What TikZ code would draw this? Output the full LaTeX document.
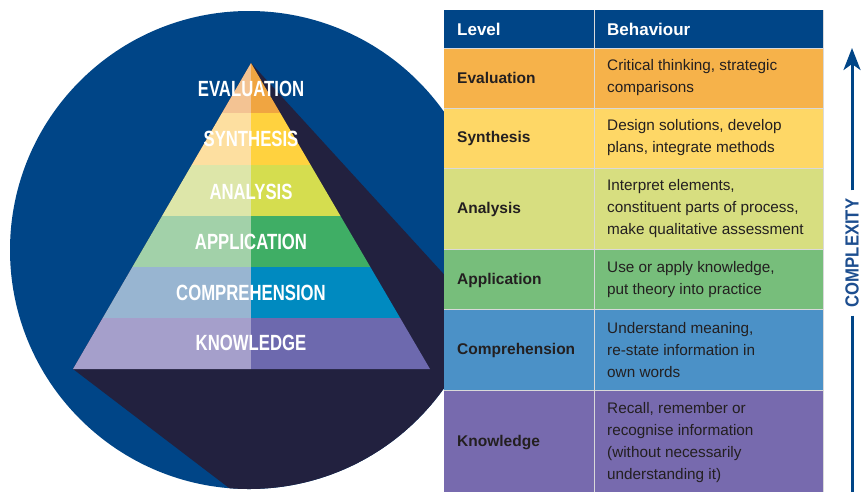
\documentclass[tikz,border=0pt]{standalone}
\usepackage{fontspec}
\setmainfont{Liberation Sans}
\newfontfamily\pyrfont{Liberation Sans}[FakeStretch=0.76]
\newfontfamily\cpxfont{Liberation Sans}[FakeStretch=0.88]
\usetikzlibrary{arrows.meta}
\definecolor{navy}{HTML}{004587}
\definecolor{shadowc}{HTML}{22213F}
\definecolor{evL}{HTML}{F3C393}\definecolor{evR}{HTML}{F0A541}
\definecolor{syL}{HTML}{FDDFA0}\definecolor{syR}{HTML}{FFD23F}
\definecolor{anL}{HTML}{DDE6A9}\definecolor{anR}{HTML}{D5DD4F}
\definecolor{apL}{HTML}{A2D1A9}\definecolor{apR}{HTML}{3FAE65}
\definecolor{coL}{HTML}{98B5D1}\definecolor{coR}{HTML}{008AC0}
\definecolor{knL}{HTML}{A59FCB}\definecolor{knR}{HTML}{6D69AE}
\definecolor{tEv}{HTML}{F6B24A}
\definecolor{tSy}{HTML}{FED766}
\definecolor{tAn}{HTML}{D7DE80}
\definecolor{tAp}{HTML}{77BE7B}
\definecolor{tCo}{HTML}{4B91C7}
\definecolor{tKn}{HTML}{776AAE}
\definecolor{ink}{HTML}{231F20}
\definecolor{gridc}{HTML}{D9D9D9}
\definecolor{cpxc}{HTML}{1D4E8F}
\tikzset{
  pyr/.style={text=white, inner sep=0pt, font=\pyrfont\bfseries\fontsize{22}{22}\selectfont},
  hdr/.style={text=white, anchor=west, inner sep=0pt, font=\bfseries\fontsize{17}{20}\selectfont},
  lvl/.style={text=ink, anchor=west, inner sep=0pt, font=\bfseries\fontsize{15.5}{22}\selectfont},
  beh/.style={text=ink, anchor=west, inner sep=0pt, align=left, font=\fontsize{15.3}{22}\selectfont},
  cell/.style={draw=gridc, line width=0.8pt},
  cpx/.style={text=cpxc, rotate=90, inner sep=8pt, font=\cpxfont\bfseries\fontsize{19}{19}\selectfont},
  arr/.style={draw=navy, line width=3pt}
}
\begin{document}
\begin{tikzpicture}[x=1pt,y=-1pt]
\useasboundingbox (0,0) rectangle (861,491);
% circle
\coordinate (cc) at (249,250);
\fill[navy] (cc) circle[radius=239pt];
% pyramid corners
\coordinate (apex) at (251,63);
\coordinate (bl) at (73,369);
\coordinate (br) at (430,369);
% shadow
\begin{scope}
  \clip (cc) circle[radius=239pt];
  \fill[shadowc] (apex) -- (818,684) -- (553,735) -- (bl) -- cycle;
\end{scope}
% pyramid bands
\begin{scope}
  \clip (apex) -- (bl) -- (br) -- cycle;
  \fill[evL] (60,55) rectangle (251,113);  \fill[evR] (251,55) rectangle (440,113);
  \fill[syL] (60,113) rectangle (251,165); \fill[syR] (251,113) rectangle (440,165);
  \fill[anL] (60,165) rectangle (251,216); \fill[anR] (251,165) rectangle (440,216);
  \fill[apL] (60,216) rectangle (251,267); \fill[apR] (251,216) rectangle (440,267);
  \fill[coL] (60,267) rectangle (251,318); \fill[coR] (251,267) rectangle (440,318);
  \fill[knL] (60,318) rectangle (251,370); \fill[knR] (251,318) rectangle (440,370);
\end{scope}
\node[pyr] (pEv) at (251,89) {EVALUATION};
\node[pyr] (pSy) at (251,139) {SYNTHESIS};
\node[pyr] (pAn) at (251,192) {ANALYSIS};
\node[pyr] (pAp) at (251,242) {APPLICATION};
\node[pyr] (pCo) at (251,293) {COMPREHENSION};
\node[pyr] (pKn) at (251,343) {KNOWLEDGE};
% table
\fill[navy] (444,10) rectangle (823,48);
\fill[tEv] (444,48) rectangle (823,108);
\fill[tSy] (444,108) rectangle (823,168);
\fill[tAn] (444,168) rectangle (823,249);
\fill[tAp] (444,249) rectangle (823,309);
\fill[tCo] (444,309) rectangle (823,390);
\fill[tKn] (444,390) rectangle (823,498);
\draw[cell] (444,48) -- (823,48);
\draw[cell] (444,108) -- (823,108);
\draw[cell] (444,168) -- (823,168);
\draw[cell] (444,249) -- (823,249);
\draw[cell] (444,309) -- (823,309);
\draw[cell] (444,390) -- (823,390);
\draw[cell] (594,10) -- (594,498);
\draw[cell] (823,10) -- (823,498);
\node[hdr] (hL) at (457,29) {Level};
\node[hdr] (hB) at (607,29) {Behaviour};
\node[lvl] (lEv) at (457,78) {Evaluation};
\node[lvl] (lSy) at (457,138) {Synthesis};
\node[lvl] (lAn) at (457,209) {Analysis};
\node[lvl] (lAp) at (457,280) {Application};
\node[lvl] (lCo) at (457,350) {Comprehension};
\node[lvl] (lKn) at (457,443) {Knowledge};
\node[beh] (bEv) at (607,78) {Critical thinking, strategic\\comparisons};
\node[beh] (bSy) at (607,138) {Design solutions, develop\\plans, integrate methods};
\node[beh] (bAn) at (607,209) {Interpret elements,\\constituent parts of process,\\make qualitative assessment};
\node[beh] (bAp) at (607,280) {Use or apply knowledge,\\put theory into practice};
\node[beh] (bCo) at (607,350) {Understand meaning,\\re-state information in\\own words};
\node[beh] (bKn) at (607,443) {Recall, remember or\\recognise information\\(without necessarily\\understanding it)};
% complexity arrow
\node[cpx] (cpx) at (852,253) {COMPLEXITY};
\coordinate (ctop) at (852,48);
\coordinate (cbot) at (852,500);
\draw[arr, -{Stealth[length=22pt,width=17pt,inset=6pt]}] (cpx.east) -- (ctop);
\draw[arr] (cpx.west) -- (cbot);
\end{tikzpicture}
\end{document}
